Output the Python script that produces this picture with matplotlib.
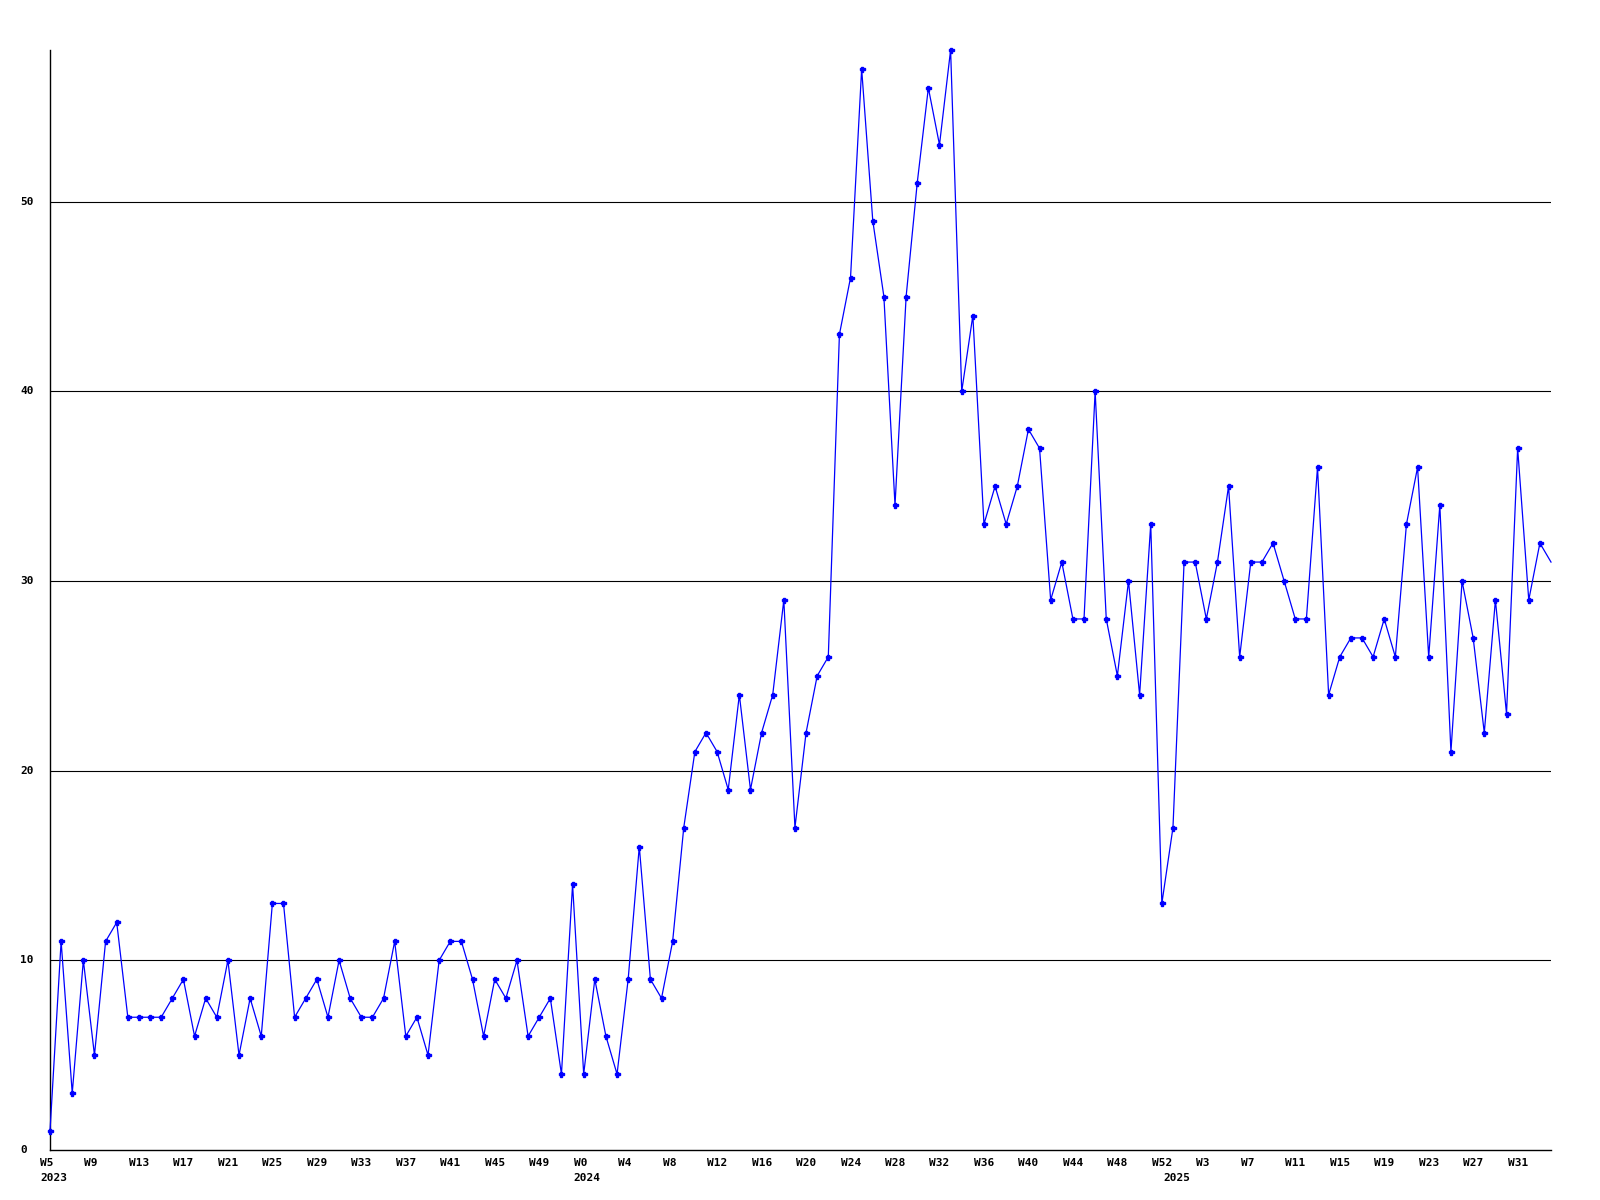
import matplotlib
matplotlib.use("Agg")
import matplotlib.pyplot as plt
import matplotlib.transforms as mtransforms

# ---- data ----
weeks_2023 = list(range(5, 53))
values_2023 = [1, 11, 3, 10, 5, 11, 12, 7, 7, 7, 7, 8, 9, 6, 8, 7, 10, 5, 8, 6,
               13, 13, 7, 8, 9, 7, 10, 8, 7, 7, 8, 11, 6, 7, 5, 10, 11, 11, 9, 6,
               9, 8, 10, 6, 7, 8, 4, 14]
weeks_2024 = list(range(0, 53))
values_2024 = [4, 9, 6, 4, 9, 16, 9, 8, 11, 17, 21, 22, 21, 19, 24, 19, 22, 24, 29, 17,
               22, 25, 26, 43, 46, 57, 49, 45, 34, 45, 51, 56, 53, 58, 40, 44, 33, 35, 33, 35,
               38, 37, 29, 31, 28, 28, 40, 28, 25, 30, 24, 33, 13]
weeks_2025 = list(range(0, 35))
values_2025 = [17, 31, 31, 28, 31, 35, 26, 31, 31, 32, 30, 28, 28, 36, 24, 26, 27, 27, 26, 28,
               26, 33, 36, 26, 34, 21, 30, 27, 22, 29, 23, 37, 29, 32, 31]
years = ["2023", "2024", "2025"]
y_ticks = [0, 10, 20, 30, 40, 50]

values = values_2023 + values_2024 + values_2025
week_labels = ["W%d" % w for w in weeks_2023 + weeks_2024 + weeks_2025]
year_start_idx = [0, len(values_2023), len(values_2023) + len(values_2024)]
x = list(range(len(values)))

fig = plt.figure(figsize=(16, 12), dpi=100)
ax = fig.add_axes([50 / 1600, 50 / 1200, 1501 / 1600, 1100 / 1200])
ax.set_xlim(0, len(values) - 1)
ax.set_ylim(0, max(values))

for yt in y_ticks[1:]:
    ax.axhline(yt, color="black", lw=0.8, zorder=1)

ax.plot(x, values, color="#0000ff", lw=0.9, marker="P", ms=3.6,
        mec="#0000ff", mfc="#0000ff", zorder=3, clip_on=False,
        markevery=list(range(len(values) - 1)))

for s in ["top", "right"]:
    ax.spines[s].set_visible(False)
ax.spines["left"].set_linewidth(1.0)
ax.spines["bottom"].set_linewidth(1.0)
ax.set_xticks([])
ax.set_yticks([])

font = dict(family="DejaVu Sans Mono", weight="bold", fontsize=8, color="black")

# y labels
ytrans = mtransforms.blended_transform_factory(fig.transFigure, ax.transData)
for yt in y_ticks:
    fig.text(20 / 1600, yt, str(yt), transform=ytrans, ha="left", va="center", **font)

# x labels (left-aligned, slightly before the point)
base = mtransforms.blended_transform_factory(ax.transData, ax.transAxes)
off = mtransforms.ScaledTranslation(-10 / 100, -8 / 100, fig.dpi_scale_trans)
for i in range(0, len(values), 4):
    ax.text(x[i], 0, week_labels[i], transform=base + off, ha="left", va="top",
            clip_on=False, **font)
off2 = mtransforms.ScaledTranslation(-10 / 100, -23 / 100, fig.dpi_scale_trans)
for yi, idx in zip(years, year_start_idx):
    ax.text(x[idx], 0, yi, transform=base + off2, ha="left", va="top",
            clip_on=False, **font)

fig.savefig("out.png", dpi=100, facecolor="white")
